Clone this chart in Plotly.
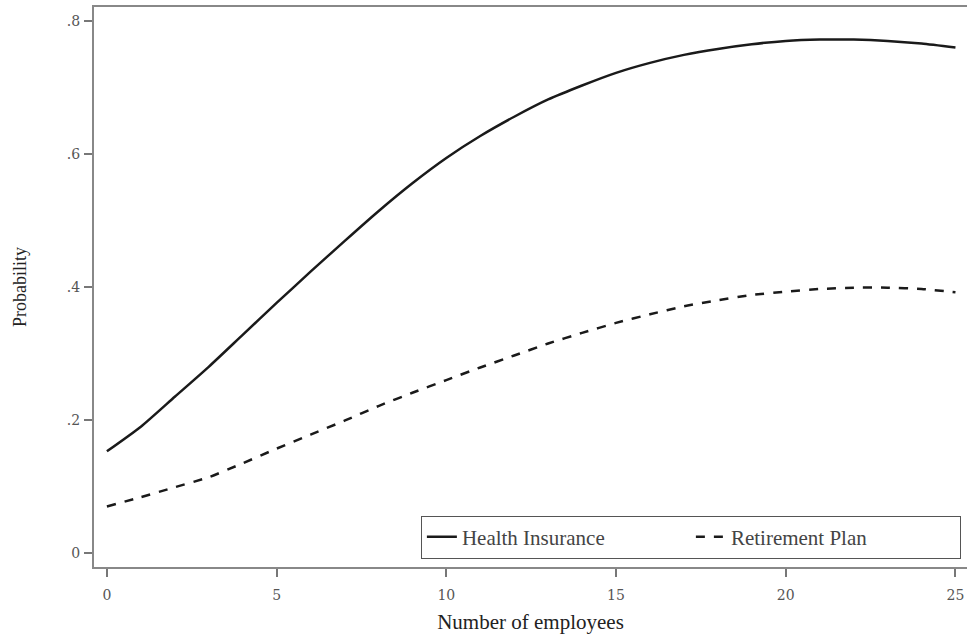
import plotly.graph_objects as go

employees = list(range(26))
health_insurance = [0.153, 0.190, 0.235, 0.280, 0.328, 0.376, 0.423, 0.469, 0.514, 0.556,
                    0.594, 0.627, 0.656, 0.682, 0.703, 0.722, 0.737, 0.749, 0.758, 0.765,
                    0.770, 0.772, 0.772, 0.770, 0.766, 0.760]
retirement_plan = [0.070, 0.084, 0.099, 0.114, 0.135, 0.157, 0.178, 0.199, 0.221, 0.241,
                   0.260, 0.279, 0.297, 0.315, 0.331, 0.346, 0.359, 0.371, 0.380, 0.388,
                   0.393, 0.397, 0.399, 0.399, 0.397, 0.392]
x_ticks = [0, 5, 10, 15, 20, 25]
y_ticks = [0, 0.2, 0.4, 0.6, 0.8]
y_tick_labels = ["0", ".2", ".4", ".6", ".8"]

fig = go.Figure()
fig.add_trace(go.Scatter(x=employees, y=health_insurance, mode="lines", name="Health Insurance",
                         line=dict(color="#1a1a1a", width=2.5, shape="spline", smoothing=0.6)))
fig.add_trace(go.Scatter(x=employees, y=retirement_plan, mode="lines", name="Retirement Plan",
                         line=dict(color="#1a1a1a", width=2.5, dash="dash", shape="spline", smoothing=0.6)))

axis_font = dict(family="DejaVu Serif", size=14, color="#555")
fig.update_layout(
    width=967, height=636,
    margin=dict(l=94, r=0, t=7, b=69),
    paper_bgcolor="white", plot_bgcolor="white",
    font=dict(family="Liberation Serif", color="#222"),
    legend=dict(orientation="h", x=0.993, y=0.015, xanchor="right", yanchor="bottom",
                bordercolor="#555", borderwidth=1, bgcolor="white",
                font=dict(family="Liberation Serif", size=21, color="#444"),
                entrywidth=224, entrywidthmode="pixels"),
)
fig.update_xaxes(range=[-0.38, 25.34], tickvals=x_ticks, ticks="outside", ticklen=8,
                 tickcolor="#777", tickwidth=1.5, showgrid=False, zeroline=False,
                 showline=True, linecolor="#888", linewidth=2, mirror=True,
                 tickfont=axis_font, ticklabelstandoff=6,
                 title=dict(text="Number of employees", font=dict(size=21, color="#222"), standoff=13))
fig.update_yaxes(range=[-0.021, 0.821], tickvals=y_ticks, ticktext=y_tick_labels,
                 ticks="outside", ticklen=8, tickcolor="#777", tickwidth=1.5,
                 showgrid=False, zeroline=False, showline=True, linecolor="#888", linewidth=2,
                 tickfont=axis_font, ticklabelstandoff=1,
                 title=dict(text="Probability", font=dict(size=18, color="#222"), standoff=36))

# drop the default page margin so the figure fills the window
fig.write_html("out.html", config={"displayModeBar": False},
               post_script="document.body.style.margin='0';document.body.style.overflow='hidden';")
